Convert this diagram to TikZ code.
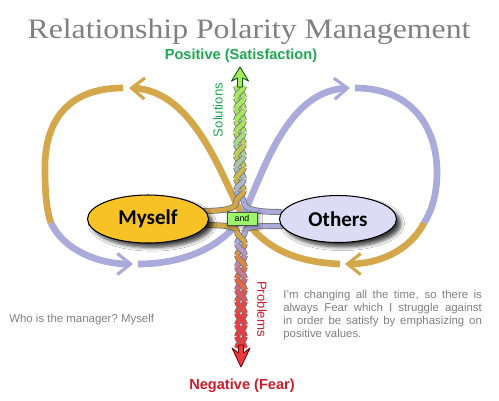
\documentclass[tikz,border=0pt]{standalone}
\usepackage{fontspec}
\setmainfont{Liberation Sans}
\newfontfamily\titlefont[FakeStretch=1.13]{Liberation Serif}
\newfontfamily\blobfont{Carlito}
\usetikzlibrary{arrows.meta,shapes.geometric,shadows.blur}

\definecolor{loopgold}{HTML}{D4A84A}
\definecolor{looplilac}{HTML}{ABABDB}
\definecolor{posgreen}{HTML}{1DA851}
\definecolor{ropegreen}{HTML}{A8E860}
\definecolor{negred}{HTML}{C81E2C}
\definecolor{ropered}{HTML}{EE3A3E}
\definecolor{notegray}{HTML}{808080}
\definecolor{myselffill}{HTML}{F6C226}
\definecolor{othersfill}{HTML}{DCDCF6}
\definecolor{andfill}{HTML}{9CF56A}

\tikzset{
  loopline/.style={line width=3.8pt},
  looptip/.style={-{Straight Barb[length=7.5pt,width=12pt,line width=1.8pt]}},
  strand/.style={line width=0.45pt, draw=black!55, double distance=2.5pt},
  blob/.style={ellipse, draw=black, line width=0.6pt, inner sep=0pt,
    font=\blobfont\bfseries\fontsize{12}{12}\selectfont,
    blur shadow={shadow xshift=2.5pt, shadow yshift=-2.5pt, shadow blur steps=6, shadow opacity=75}},
  note/.style={inner sep=0pt, text=notegray, font=\fontsize{6.5}{7.4}\selectfont},
}

\begin{document}
\begin{tikzpicture}[x=0.02cm, y=-0.02cm]
			%%%%% START %%%%%
			\fill[white] (0,0) rectangle (499,400);
			\useasboundingbox (0,0) rectangle (499,400);
			
			% figure eight
			\draw[loopline, loopgold, looptip] (340,264) .. controls (292,262) and (262,246) .. (243,216) .. controls (224,184) and (196,90) .. (129,88);
			\draw[loopline, loopgold] (123,88) .. controls (62,88) and (44,128) .. (45,170) .. controls (45,195) and (47,212) .. (51,223);
			\draw[loopline, looplilac, looptip] (51,223) .. controls (64,250) and (98,264) .. (133,264);
			\draw[loopline, looplilac, looptip] (138,264) .. controls (188,264) and (224,244) .. (241,218) .. controls (260,186) and (282,91) .. (350,88);
			\draw[loopline, looplilac] (355,88) .. controls (414,88) and (437,130) .. (437,172) .. controls (437,196) and (431,212) .. (424,223);
			\draw[loopline, loopgold, looptip] (424,223) .. controls (410,250) and (380,264) .. (345,264);
			
			% strands leaving the two blobs
			\draw[strand, double=loopgold] (198,211) .. controls (226,211) and (236,209) .. (236,202);
			\draw[strand, double=looplilac] (282,212) .. controls (254,212) and (244,209) .. (244,202);
			\draw[strand, double=loopgold] (198,225) .. controls (226,225) and (237,226) .. (237,232);
			\draw[strand, double=looplilac] (283,226) .. controls (256,226) and (245,226) .. (245,232);
			
			% rope up
			\foreach \k in {0,...,9}{
				\pgfmathsetmacro\yo{202-11.6*\k}
				\pgfmathsetmacro\yt{\yo-11.6}
				\pgfmathtruncatemacro\p{min(100,\k*15)}
				\colorlet{stranda}{ropegreen!\p!looplilac}
				\colorlet{strandb}{ropegreen!\p!loopgold}
				\ifodd\k\relax
					\draw[strand, double=strandb] (244,\yo) .. controls +(0,-4.6) and +(0,4.6) .. (236,\yt);
					\draw[strand, double=stranda] (236,\yo) .. controls +(0,-4.6) and +(0,4.6) .. (244,\yt);
				\else
					\draw[strand, double=stranda] (244,\yo) .. controls +(0,-4.6) and +(0,4.6) .. (236,\yt);
					\draw[strand, double=strandb] (236,\yo) .. controls +(0,-4.6) and +(0,4.6) .. (244,\yt);
				\fi
			}
			
			% rope down
			\foreach \k in {0,...,9}{
				\pgfmathsetmacro\yo{232+11.6*\k}
				\pgfmathsetmacro\yt{\yo+11.6}
				\pgfmathtruncatemacro\p{min(100,\k*15)}
				\colorlet{stranda}{ropered!\p!looplilac}
				\colorlet{strandb}{ropered!\p!loopgold}
				\ifodd\k\relax
					\draw[strand, double=strandb] (245,\yo) .. controls +(0,4.6) and +(0,-4.6) .. (237,\yt);
					\draw[strand, double=stranda] (237,\yo) .. controls +(0,4.6) and +(0,-4.6) .. (245,\yt);
				\else
					\draw[strand, double=stranda] (245,\yo) .. controls +(0,4.6) and +(0,-4.6) .. (237,\yt);
					\draw[strand, double=strandb] (237,\yo) .. controls +(0,4.6) and +(0,-4.6) .. (245,\yt);
				\fi
			}
			
			\draw[fill=ropegreen, draw=green!35!black, line width=0.5pt, line join=round] (240,67) -- (248.5,81) -- (242.5,78) -- (242.5,87) -- (237.5,87) -- (237.5,78) -- (231.5,81) -- cycle;
			\draw[fill=ropered, draw=red!45!black, line width=0.5pt, line join=round] (241,367) -- (232,348) -- (238.5,353) -- (238.5,345) -- (243.5,345) -- (243.5,353) -- (250,348) -- cycle;
			
			\node[blob, fill=myselffill, minimum width=2.42cm, minimum height=0.96cm] (myself) at (148,219) {Myself};
			\node[blob, fill=othersfill, minimum width=2.34cm, minimum height=0.94cm] (others) at (338,219) {Others};
			\node[draw=black!70, fill=andfill, minimum width=0.6cm, minimum height=0.26cm, inner sep=0pt,
				font=\fontsize{5}{5}\selectfont, blur shadow={shadow xshift=1pt, shadow yshift=-1pt, shadow opacity=50}] (and) at (242,218.5) {and};
			
			\node[anchor=base, text=notegray, font=\titlefont\fontsize{16}{16}\selectfont] (title) at (249,38) {Relationship Polarity Management};
			\node[anchor=base, text=posgreen, font=\bfseries\fontsize{8.3}{9}\selectfont] (positive) at (241,59) {Positive (Satisfaction)};
			\node[anchor=base, text=negred, font=\bfseries\fontsize{8.3}{9}\selectfont] (negative) at (242,389) {Negative (Fear)};
			\node[rotate=90, text=posgreen, font=\fontsize{7.5}{8}\selectfont] (solutions) at (218,110) {Solutions};
			\node[rotate=-90, text=negred, font=\fontsize{7.5}{8}\selectfont] (problems) at (262,309) {Problems};
			
			\node[note, anchor=west] (who) at (9,320) {Who is the manager?\ Myself};
			\node[note, anchor=north west, text width=113pt, align=justify] (fear) at (283,290) {I'm changing all the time, so there is\linebreak always Fear which I struggle against\linebreak in order be satisfy by emphasizing on\linebreak positive values.};
			%%%%% END %%%%%
		\end{tikzpicture}
\end{document}
